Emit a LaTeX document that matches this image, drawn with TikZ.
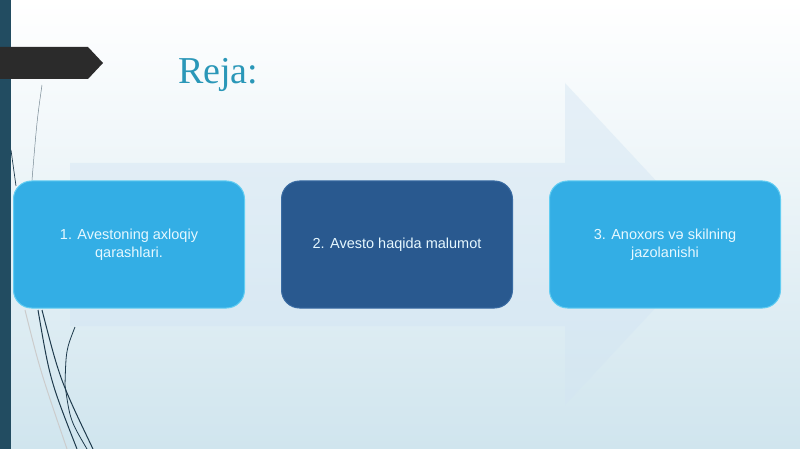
\documentclass[tikz,border=0pt]{standalone}
\usepackage{fontspec}
\setmainfont{Liberation Serif}
\setsansfont{Liberation Sans}
\usepackage{tikz}
\usetikzlibrary{positioning}
\definecolor{SkyBox}{HTML}{33AEE5}
\definecolor{SkyEdge}{HTML}{62CDF2}
\definecolor{NavyBox}{HTML}{29598F}
\definecolor{NavyEdge}{HTML}{3A6CA3}
\definecolor{TitleTeal}{HTML}{2A97B8}
\definecolor{TagDark}{HTML}{2B2B2B}
\definecolor{BarDark}{HTML}{224C61}
\definecolor{BgBottom}{HTML}{D0E5EE}
\definecolor{ArrowBg}{HTML}{D3E5F3}
\definecolor{BoxText}{HTML}{E6F8FF}
\definecolor{Wire}{HTML}{1E3A4C}

\begin{document}
\begin{tikzpicture}[x=1pt, y=-1pt, node distance=36pt]
        \tikzstyle{plan}  = [rectangle, draw=SkyEdge, fill=SkyBox, rounded corners=18pt, minimum width=231pt, minimum height=127pt, align=center, text=BoxText, font=\sffamily\fontsize{14.5}{18}\selectfont, line width=1pt]
        \tikzstyle{focus} = [plan, draw=NavyEdge, fill=NavyBox]

        % Background
        \useasboundingbox (0,0) rectangle (800,449);
        \shade[top color=white, bottom color=BgBottom] (0,0) rectangle (800,449);
        \fill[ArrowBg, opacity=0.45] (70,163) -- (565,163) -- (565,83) -- (715,244) -- (565,405) -- (565,326) -- (70,326) -- cycle;

        % Left bar and title tag
        \fill[BarDark] (0,0) rectangle (11,449);
        \fill[TagDark] (0,47) -- (88,47) -- (103,63) -- (88,79) -- (0,79) -- cycle;
        \node[anchor=base west, text=TitleTeal, font=\fontsize{38}{40}\selectfont, inner sep=0pt] (title) at (178,84) {Reja:};

        % Decorative wires
        \draw[Wire!60, line width=0.5pt] (42,85) .. controls (37,120) .. (32,180);
        \draw[Wire, line width=0.7pt] (11,150) -- (16,186);
        \draw[gray!40, line width=1pt] (25,310) .. controls (40,370) .. (67,449);
        \draw[Wire, line width=1pt] (38,310) .. controls (50,380) .. (77,449);
        \draw[Wire, line width=1pt] (42,310) .. controls (60,380) .. (93,449);
        \draw[Wire, line width=0.8pt] (75,327) .. controls (66,350) .. (65,385) .. controls (70,420) .. (87,449);

        % Plan boxes
        \node[plan] (p1) at (129,244.5) {1. Avestoning axloqiy\\ qarashlari.};
        \node[focus, right=36pt of p1] (p2) {2. Avesto haqida malumot};
        \node[plan, right=36pt of p2] (p3) {3. Anoxors və skilning\\ jazolanishi};
    \end{tikzpicture}
\end{document}
